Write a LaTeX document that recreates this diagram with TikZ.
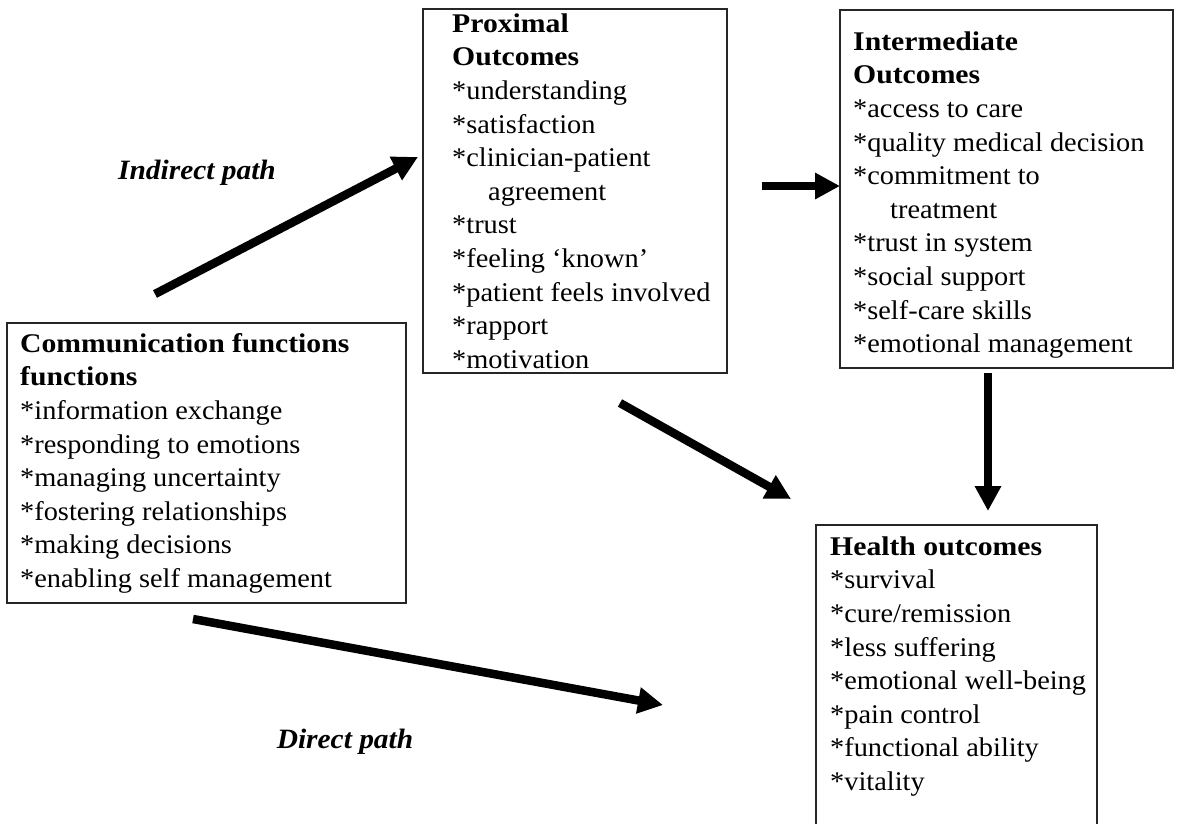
\documentclass[tikz,border=0pt]{standalone}
\usepackage{fontspec}
\setmainfont{Liberation Serif}[FakeStretch=1.05, BoldFeatures={FakeStretch=1.1}]
\usetikzlibrary{arrows.meta}
\tikzset{
  box/.style={draw=black!85, line width=1.6pt, anchor=north west, inner sep=0pt, outer sep=0pt},
  txt/.style={anchor=north west, inner sep=0pt, align=left, font=\fontsize{27}{33.6}\selectfont},
  pathlabel/.style={inner sep=0pt, font=\fontsize{28}{30}\selectfont\bfseries\itshape},
  bigarrow/.style={line width=8.5pt, -{Triangle[length=25pt,width=25pt]}},
}
\newcommand{\fl}{\rule{0pt}{20pt}}
\begin{document}
\begin{tikzpicture}[x=1pt,y=-1pt]
\useasboundingbox (0,0) rectangle (1179,823);
\clip (0,0) rectangle (1179,823);
\fill[white] (0,0) rectangle (1179,823);

% boxes
\node[box, minimum width=399pt, minimum height=280pt] (comm) at (7,323) {};
\node[box, minimum width=304pt, minimum height=364pt] (prox) at (423,9) {};
\node[box, minimum width=333pt, minimum height=358pt] (inter) at (840,10) {};
\node[box, minimum width=281pt, minimum height=330pt] (health) at (816,525) {};

% texts
\node[txt] (commtxt) at (20,332) {\fl\textbf{Communication functions}\\
\textbf{functions}\\
*information exchange\\
*responding to emotions\\
*managing uncertainty\\
*fostering relationships\\
*making decisions\\
*enabling self management};

\node[txt] (proxtxt) at (452,12) {\fl\textbf{Proximal}\\
\textbf{Outcomes}\\
*understanding\\
*satisfaction\\
*clinician-patient\\
\hspace*{36pt}agreement\\
*trust\\
*feeling ‘known’\\
*patient feels involved\\
*rapport\\
*motivation};

\node[txt] (intertxt) at (853,30) {\fl\textbf{Intermediate}\\
\textbf{Outcomes}\\
*access to care\\
*quality medical decision\\
*commitment to\\
\hspace*{37pt}treatment\\
*trust in system\\
*social support\\
*self-care skills\\
*emotional management};

\node[txt] (healthtxt) at (830,535) {\fl\textbf{Health outcomes}\\
*survival\\
*cure/remission\\
*less suffering\\
*emotional well-being\\
*pain control\\
*functional ability\\
*vitality};

% labels
\node[pathlabel] (indlabel) at (197,173) {Indirect path};
\node[pathlabel] (dirlabel) at (345,742) {Direct path};

% arrow end points
\coordinate (ind-s) at (155,294);
\coordinate (ind-e) at (418,157);
\coordinate (pi-s) at (762,186);
\coordinate (pi-e) at (840,186);
\coordinate (ph-s) at (620,403);
\coordinate (ph-e) at (791,499);
\coordinate (ih-s) at (988,373);
\coordinate (ih-e) at (988,511);
\coordinate (dir-s) at (193,619);
\coordinate (dir-e) at (663,705);

\draw[bigarrow] (ind-s) -- (ind-e);
\draw[bigarrow] (pi-s) -- (pi-e);
\draw[bigarrow] (ph-s) -- (ph-e);
\draw[bigarrow] (ih-s) -- (ih-e);
\draw[bigarrow] (dir-s) -- (dir-e);
\end{tikzpicture}
\end{document}
